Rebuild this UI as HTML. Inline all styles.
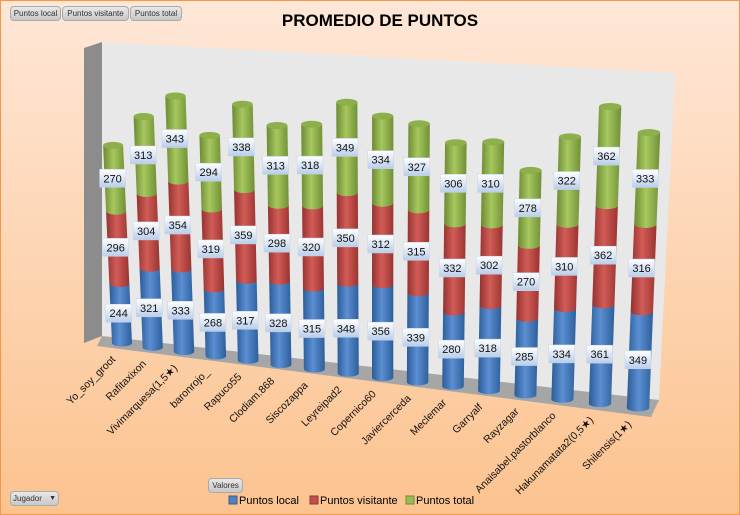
<!DOCTYPE html>
<html><head><meta charset="utf-8"><style>
body{margin:0;width:740px;height:515px;overflow:hidden;font-family:"Liberation Sans",sans-serif}
#wrap{position:relative;width:738px;height:513px;border:1px solid #f79646;background:linear-gradient(#fee7d7,#fcc38f)}
.btn{position:absolute;box-sizing:border-box;font-size:8px;color:#333;background:linear-gradient(#e8e8e8,#c8c8c8);border:1px solid #aaa;border-radius:4px;padding:0 2px;height:15px;line-height:13px;text-align:center;white-space:nowrap;overflow:hidden}
</style></head><body>
<div id="wrap">
<div class="btn" style="left:9px;top:5px;width:51px">Puntos local</div>
<div class="btn" style="left:61px;top:5px;width:67px">Puntos visitante</div>
<div class="btn" style="left:129px;top:5px;width:52px">Puntos total</div>
<div class="btn" style="left:207px;top:477px;width:35px">Valores</div>
<div class="btn" style="left:9px;top:490px;width:49px;text-align:left">Jugador <span style="float:right;font-size:7px">▼</span></div>
<svg id="svg" width="740" height="515" style="position:absolute;left:-1px;top:-1px">
<defs>
<linearGradient id="gb" x1="0" x2="1"><stop offset="0" stop-color="#2b5c98"/><stop offset="0.45" stop-color="#5b8fd2"/><stop offset="1" stop-color="#2e5f9b"/></linearGradient>
<linearGradient id="gr" x1="0" x2="1"><stop offset="0" stop-color="#953230"/><stop offset="0.45" stop-color="#d25c57"/><stop offset="1" stop-color="#9a3431"/></linearGradient>
<linearGradient id="gg" x1="0" x2="1"><stop offset="0" stop-color="#6c8a33"/><stop offset="0.45" stop-color="#a6c85e"/><stop offset="1" stop-color="#718f36"/></linearGradient>
<linearGradient id="gl" x1="0" y1="0" x2="0" y2="1"><stop offset="0" stop-color="#ffffff"/><stop offset="1" stop-color="#b9cdea"/></linearGradient>
</defs>
<text x="380" y="26" text-anchor="middle" font-size="17" font-weight="bold" fill="#000">PROMEDIO DE PUNTOS</text>
<polygon points="84,48 102,42 102,336 84,343" fill="#8c8c8c"/>
<polygon points="102,42 675,73 659,400 102,336" fill="#e8e8e8"/>
<polygon points="102,336 659,400 651,417 97,346" fill="#a6a6a6"/>
<g id="bars"></g>
<g id="xl"></g>
<rect x="229" y="496" width="8" height="8" fill="#4f81bd" stroke="#385d8a"/>
<text x="239" y="504" font-size="11">Puntos local</text>
<rect x="310" y="496" width="8" height="8" fill="#c0504d" stroke="#8c3836"/>
<text x="320" y="504" font-size="11">Puntos visitante</text>
<rect x="406" y="496" width="8" height="8" fill="#9bbb59" stroke="#71893f"/>
<text x="416" y="504" font-size="11">Puntos total</text>
</svg>
</div>
<script>
const categories=["Yo_soy_groot","Rafitaxixon","Vivimarquesa(1,5★)","baronrojo_","Rapuco55","Clodiam.868","Siscozappa","Leyreipad2","Copernico60","Javiercerceda","Meclemar","Garryalf","Rayzagar","Anaisabel.pastorblanco","Hakunamatata2(0,5★)","Shilensis(1★)"];
const local=[244,321,333,268,317,328,315,348,356,339,280,318,285,334,361,349];
const visitante=[296,304,354,319,359,298,320,350,312,315,332,302,270,310,362,316];
const total=[270,313,343,294,338,313,318,349,334,327,306,310,278,322,362,333];
const NS="http://www.w3.org/2000/svg";
const n=categories.length;
function bx(i){const t=i*15/(n-1);return 122+30.5*t+0.26*t*t;}
function by(i){return 343+4.33*i*15/(n-1);}
function sc(i){return 0.244+0.00213*i*15/(n-1);}
function lean(i){return -0.045+0.085*i/(n-1);}
function hw(i){return 10+1.2*i/(n-1);}
const g=document.getElementById('bars'),xl=document.getElementById('xl');
function mk(tag,attrs,parent){const e=document.createElementNS(NS,tag);for(const k in attrs)e.setAttribute(k,attrs[k]);parent.appendChild(e);return e;}
const series=[[local,'gb','local','#3d6fad'],[visitante,'gr','visitante','#b04440'],[total,'gg','total','#8db04c']];
for(let i=0;i<n;i++){
  const x0=bx(i),y0=by(i),s=sc(i),L=lean(i),w=hw(i),ry=3.5;
  let cum=0;
  const labels=[];
  series.forEach(([arr,grad,nm,topc],k)=>{
    const h0=cum*s,h1=(cum+arr[i])*s;cum+=arr[i];
    const xa=x0+L*h0,ya=y0-h0,xb=x0+L*h1,yb=y0-h1;
    const p=mk('path',{d:`M${xa-w},${ya} L${xb-w},${yb} L${xb+w},${yb} L${xa+w},${ya} A${w},${ry} 0 0 1 ${xa-w},${ya} Z`,fill:`url(#${grad})`},g);
    
    
    if(k===2){const e=mk('ellipse',{cx:xb,cy:yb,rx:w,ry:ry,fill:topc},g);
      
      }
    labels.push([(xa+xb)/2-2,(ya+yb)/2,arr[i],nm]);
  });
  labels.forEach(([lx,ly,v,nm])=>{
    const r=mk('rect',{x:lx-13,y:ly-9,width:26,height:18,fill:'url(#gl)',stroke:'#c6d4ea','stroke-width':0.5},g);
    
    
    const t=mk('text',{x:lx,y:ly+4,'text-anchor':'middle','font-size':11,fill:'#111'},g);
    t.textContent=v;
    
    
  });
  const tx=x0-6,ty=y0+17;
  const t=mk('text',{x:tx,y:ty,'text-anchor':'end','font-size':10.5,fill:'#111',transform:`rotate(-45 ${tx} ${ty})`},xl);
  t.textContent=categories[i];
  
  
}
</script>
</body></html>
